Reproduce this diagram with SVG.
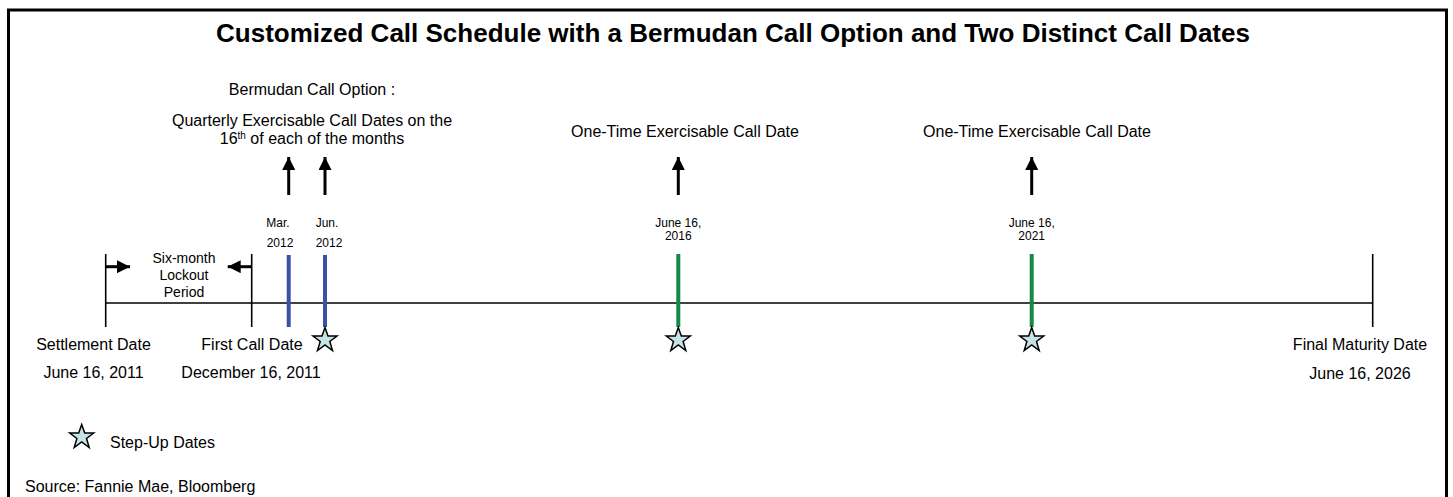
<svg xmlns="http://www.w3.org/2000/svg" width="1453" height="497" viewBox="0 0 1453 497">
<style>
text{font-family:"Liberation Sans",Arial,sans-serif;fill:#000}
.t{font-size:26px;font-weight:bold;text-anchor:middle}
.l{font-size:16px;text-anchor:middle}
.s{font-size:14px;text-anchor:middle}
.d{font-size:12px;text-anchor:middle}
.ax{stroke:#000;stroke-width:1.6;fill:none}
.arr{stroke:#000;stroke-width:3;fill:none;marker-end:url(#ah)}
.blue{stroke:#3a52a6;stroke-width:4}
.green{stroke:#17884a;stroke-width:4}
.star{fill:#c6e4e6;stroke:#000;stroke-width:1.5;stroke-linejoin:miter}
</style>
<defs>
<marker id="ah" markerUnits="userSpaceOnUse" viewBox="0 0 13 13" markerWidth="13" markerHeight="13" refX="13" refY="6.5" orient="auto">
<path d="M0,0 L13,6.5 L0,13 Z" fill="#000"/>
</marker>
<path id="star" d="M0,-12.5 L3,-4 L12,-4 L4.8,1.5 L7.5,10.5 L0,5 L-7.5,10.5 L-4.8,1.5 L-12,-4 L-3,-4 Z" class="star"/>
</defs>
<rect x="8.5" y="10" width="1438" height="500" fill="#fff" stroke="#000" stroke-width="3"/>
<text class="t" x="733" y="42">Customized Call Schedule with a Bermudan Call Option and Two Distinct Call Dates</text>

<g id="bermudan-label">
<text class="l" x="312" y="95">Bermudan Call Option :</text>
<text class="l" x="312" y="126">Quarterly Exercisable Call Dates on the</text>
<text class="l" x="312" y="144">16<tspan font-size="10" dy="-5">th</tspan><tspan dy="5"> of each of the months</tspan></text>
</g>
<g id="onetime-label-1"><text class="l" x="685" y="137">One-Time Exercisable Call Date</text></g>
<g id="onetime-label-2"><text class="l" x="1037" y="137">One-Time Exercisable Call Date</text></g>

<g id="connectors">
<line class="ax" x1="105.7" y1="303" x2="1372.7" y2="303"/>
<line class="ax" x1="105.7" y1="254" x2="105.7" y2="327"/>
<line class="ax" x1="251.7" y1="254" x2="251.7" y2="327"/>
<line class="ax" x1="1372.7" y1="254" x2="1372.7" y2="327"/>
<line class="arr" x1="288.7" y1="195" x2="288.7" y2="157"/>
<line class="arr" x1="325" y1="195" x2="325" y2="157"/>
<line class="arr" x1="678.3" y1="195" x2="678.3" y2="157"/>
<line class="arr" x1="1031.7" y1="195" x2="1031.7" y2="157"/>
<line class="arr" x1="105.7" y1="266.7" x2="130" y2="266.7"/>
<line class="arr" x1="251.7" y1="266.7" x2="227.7" y2="266.7"/>
</g>

<g id="settlement">
<text class="l" x="93.5" y="350">Settlement Date</text>
<text class="l" x="93.5" y="378">June 16, 2011</text>
</g>
<g id="lockout">
<text class="s" x="184" y="263">Six-month</text>
<text class="s" x="184" y="280">Lockout</text>
<text class="s" x="184" y="297">Period</text>
</g>
<g id="first-call">
<text class="l" x="252" y="350">First Call Date</text>
<text class="l" x="251" y="378">December 16, 2011</text>
</g>
<g id="mar-2012">
<line class="blue" x1="288.7" y1="255" x2="288.7" y2="327"/>
<text class="d" x="278" y="227">Mar.</text>
<text class="d" x="280" y="247">2012</text>
</g>
<g id="jun-2012">
<line class="blue" x1="325" y1="255" x2="325" y2="327"/>
<text class="d" x="327" y="227">Jun.</text>
<text class="d" x="329" y="247">2012</text>
<use href="#star" x="325" y="340"/>
</g>
<g id="jun-2016">
<line class="green" x1="678.3" y1="254" x2="678.3" y2="327"/>
<text class="d" x="678.3" y="227">June 16,</text>
<text class="d" x="678.3" y="240">2016</text>
<use href="#star" x="678.3" y="340"/>
</g>
<g id="jun-2021">
<line class="green" x1="1031.7" y1="254" x2="1031.7" y2="327"/>
<text class="d" x="1031.7" y="227">June 16,</text>
<text class="d" x="1031.7" y="240">2021</text>
<use href="#star" x="1031.7" y="340"/>
</g>
<g id="maturity">
<text class="l" x="1360" y="350">Final Maturity Date</text>
<text class="l" x="1360" y="379">June 16, 2026</text>
</g>
<g id="legend">
<use href="#star" x="81.7" y="437"/>
<text x="110" y="448" font-size="16">Step-Up Dates</text>
</g>
<text x="25" y="492" font-size="16">Source: Fannie Mae, Bloomberg</text>
</svg>
